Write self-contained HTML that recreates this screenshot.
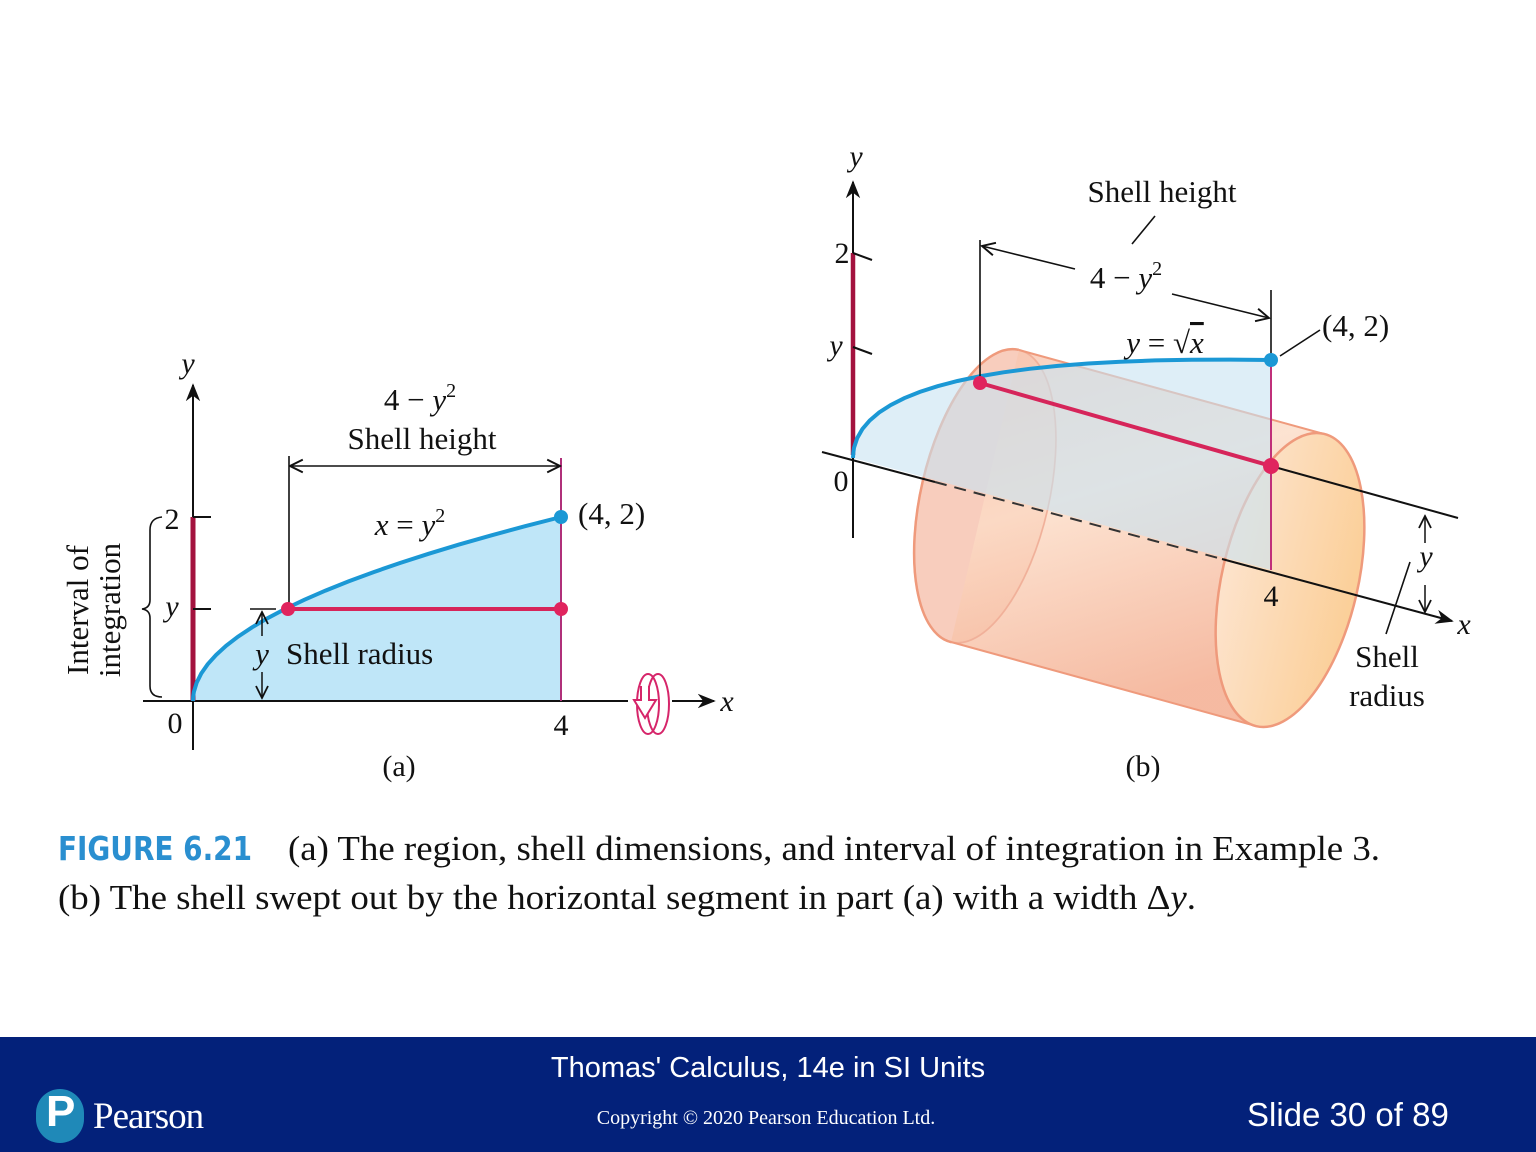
<!DOCTYPE html>
<html><head><meta charset="utf-8">
<style>
html,body{margin:0;padding:0;background:#fff}
#page{position:relative;width:1536px;height:1152px;overflow:hidden;background:#fff}
svg text{font-family:"Liberation Serif",serif;fill:#111}
.it{font-style:italic}
#footer{position:absolute;left:0;top:1037px;width:1536px;height:115px;background:#03217a}
.ft{position:absolute;color:#fff;font-family:"Liberation Sans",sans-serif;white-space:nowrap}
</style></head>
<body>
<div id="page">
<svg id="fig" width="1536" height="1037" viewBox="0 0 1536 1037" style="position:absolute;left:0;top:0">
<defs>
<marker id="ah" viewBox="0 0 10 10" refX="9" refY="5" markerWidth="9" markerHeight="9" orient="auto-start-reverse"><path d="M0,1 L10,5 L0,9 L3,5 z" fill="#111"/></marker>
<marker id="ao" viewBox="0 0 10 10" refX="9" refY="5" markerWidth="10" markerHeight="10" orient="auto-start-reverse"><path d="M1,1 L9,5 L1,9" fill="none" stroke="#111" stroke-width="1.2"/></marker>
<linearGradient id="body" x1="0" y1="0" x2="0.3" y2="1">
<stop offset="0" stop-color="#f8c3ad"/><stop offset="0.45" stop-color="#fcdcc6"/><stop offset="1" stop-color="#f3a98a"/></linearGradient>
<linearGradient id="endg" x1="0" y1="0" x2="1" y2="0">
<stop offset="0" stop-color="#fde3cc"/><stop offset="1" stop-color="#fbcf98"/></linearGradient>
</defs>

<!-- Panel A -->
<g id="panelA">
<path id="regionA" fill="#bfe6f8" d=""/>
<line x1="193" y1="750" x2="193" y2="385" stroke="#111" stroke-width="2" marker-end="url(#ah)"/>
<line x1="143" y1="701" x2="628" y2="701" stroke="#111" stroke-width="2"/>
<line x1="672" y1="701" x2="714" y2="701" stroke="#111" stroke-width="2" marker-end="url(#ah)"/>
<line x1="193" y1="517" x2="193" y2="701" stroke="#a3123e" stroke-width="5"/>
<line x1="193" y1="517" x2="211" y2="517" stroke="#111" stroke-width="2"/>
<line x1="193" y1="609" x2="211" y2="609" stroke="#111" stroke-width="2"/>
<text x="172" y="529" font-size="30" text-anchor="middle">2</text>
<text x="172" y="616" font-size="30" class="it" text-anchor="middle">y</text>
<text x="175" y="733" font-size="30" text-anchor="middle">0</text>
<text x="561" y="735" font-size="30" text-anchor="middle">4</text>
<text x="188" y="373" font-size="30" class="it" text-anchor="middle">y</text>
<text x="727" y="711" font-size="30" class="it" text-anchor="middle">x</text>
<path d="M162,517 Q150,518 150,530 L150,600 Q150,608 142,609 Q150,610 150,618 L150,686 Q150,697 162,697" fill="none" stroke="#111" stroke-width="1.6"/>
<text transform="translate(88,610) rotate(-90)" font-size="31" text-anchor="middle">Interval of</text>
<text transform="translate(120,610) rotate(-90)" font-size="31" text-anchor="middle">integration</text>
<path id="curveA" fill="none" stroke="#1b98d5" stroke-width="4" d=""/>
<line id="vertA" x1="561" y1="458" x2="561" y2="701" stroke="#b0307a" stroke-width="2"/>
<line x1="289" y1="456" x2="289" y2="609" stroke="#111" stroke-width="1.6"/>
<line x1="290" y1="466" x2="560" y2="466" stroke="#111" stroke-width="1.6" marker-start="url(#ao)" marker-end="url(#ao)"/>
<line id="segA" x1="288" y1="609" x2="561" y2="609" stroke="#d6255a" stroke-width="4"/>
<line x1="250" y1="609" x2="276" y2="609" stroke="#111" stroke-width="1.6"/>
<line x1="262" y1="636" x2="262" y2="612" stroke="#111" stroke-width="1.5" marker-end="url(#ao)"/>
<line x1="262" y1="672" x2="262" y2="698" stroke="#111" stroke-width="1.5" marker-end="url(#ao)"/>
<circle cx="288" cy="609" r="7" fill="#e0245e"/>
<circle cx="561" cy="609" r="7" fill="#e0245e"/>
<circle cx="561" cy="517" r="7" fill="#1b98d5"/>
<text x="420" y="410" font-size="31" text-anchor="middle">4 − <tspan class="it">y</tspan><tspan font-size="20" dy="-13">2</tspan></text>
<text x="422" y="449" font-size="31" text-anchor="middle">Shell height</text>
<text x="410" y="535" font-size="31" text-anchor="middle"><tspan class="it">x</tspan> = <tspan class="it">y</tspan><tspan font-size="20" dy="-13">2</tspan></text>
<text x="578" y="524" font-size="31">(4, 2)</text>
<text x="262" y="664" font-size="31" class="it" text-anchor="middle">y</text>
<text x="286" y="664" font-size="31">Shell radius</text>
<text x="399" y="776" font-size="30" text-anchor="middle">(a)</text>
<g fill="none" stroke="#d6256a" stroke-width="2">
<ellipse cx="658" cy="704" rx="11" ry="30"/><ellipse cx="648" cy="704" rx="11" ry="30"/>
<path d="M641,686 L641,700 L634,700 L645,718 L656,700 L649,700 L649,686" fill="#fff"/>
</g>
</g>

<!-- Panel B -->
<g id="panelB">
<g transform="translate(985,496) rotate(13)"><ellipse rx="64" ry="150" fill="#f8cdbd" stroke="#efa286" stroke-width="2"/></g>
<path d="M1019,350 L1324,434 L1256,726 L951,642 Z" fill="url(#body)" fill-opacity="0.8"/>
<g transform="translate(985,496) rotate(13)"><path d="M0,-150 A64,150 0 0 0 0,150" fill="none" stroke="#ef9a7c" stroke-width="2.5"/><path d="M0,-150 A64,150 0 0 1 0,150" fill="none" stroke="#f0b09a" stroke-width="1.5"/></g>
<line x1="1019" y1="350" x2="1324" y2="434" stroke="#ef9a7c" stroke-width="2"/>
<line x1="951" y1="642" x2="1256" y2="726" stroke="#ef9a7c" stroke-width="2"/>
<g transform="translate(1290,580) rotate(13)"><ellipse rx="68" ry="150" fill="url(#endg)" stroke="#ef9a7c" stroke-width="2.5"/></g>
<path id="regionB2" fill="#c8e3f1" fill-opacity="0.6" d=""/>
<line x1="853" y1="538" x2="853" y2="182" stroke="#111" stroke-width="2" marker-end="url(#ah)"/>
<line x1="822" y1="452" x2="935" y2="482" stroke="#111" stroke-width="2"/>
<line x1="935" y1="482" x2="1222" y2="559" stroke="#333" stroke-width="2" stroke-dasharray="12,8"/>
<line x1="1222" y1="559" x2="1452" y2="621" stroke="#111" stroke-width="2" marker-end="url(#ah)"/>
<line x1="1278" y1="468" x2="1458" y2="518" stroke="#111" stroke-width="2"/>
<line x1="853" y1="253" x2="853" y2="455" stroke="#a3123e" stroke-width="4.5"/>
<line x1="853" y1="253" x2="872" y2="260" stroke="#111" stroke-width="2"/>
<line x1="853" y1="347" x2="872" y2="354" stroke="#111" stroke-width="2"/>
<text x="842" y="263" font-size="30" text-anchor="middle">2</text>
<text x="836" y="355" font-size="30" class="it" text-anchor="middle">y</text>
<text x="841" y="491" font-size="30" text-anchor="middle">0</text>
<text x="856" y="166" font-size="30" class="it" text-anchor="middle">y</text>
<text x="1464" y="634" font-size="30" class="it" text-anchor="middle">x</text>
<text x="1271" y="606" font-size="30" text-anchor="middle">4</text>
<path id="curveB" fill="none" stroke="#1b98d5" stroke-width="4" d=""/>
<line x1="980" y1="240" x2="980" y2="383" stroke="#111" stroke-width="1.6"/>
<line x1="1271" y1="290" x2="1271" y2="360" stroke="#111" stroke-width="1.6"/>
<line x1="1271" y1="360" x2="1271" y2="570" stroke="#c0307a" stroke-width="2"/>
<line x1="982" y1="246" x2="1075" y2="269" stroke="#111" stroke-width="1.6" marker-start="url(#ao)"/>
<line x1="1172" y1="294" x2="1269" y2="318" stroke="#111" stroke-width="1.6" marker-end="url(#ao)"/>
<line id="segB" x1="980" y1="383" x2="1271" y2="466" stroke="#d6255a" stroke-width="4"/>
<circle cx="980" cy="383" r="7" fill="#e0245e"/>
<circle cx="1271" cy="466" r="8" fill="#e0245e"/>
<circle cx="1271" cy="360" r="7" fill="#1b98d5"/>
<line x1="1280" y1="356" x2="1320" y2="330" stroke="#111" stroke-width="1.6"/>
<text x="1322" y="336" font-size="31">(4, 2)</text>
<text x="1162" y="202" font-size="31" text-anchor="middle">Shell height</text>
<line x1="1155" y1="216" x2="1132" y2="244" stroke="#111" stroke-width="1.6"/>
<text x="1126" y="288" font-size="31" text-anchor="middle">4 − <tspan class="it">y</tspan><tspan font-size="20" dy="-13">2</tspan></text>
<text x="1165" y="353" font-size="31" text-anchor="middle"><tspan class="it">y</tspan> = √<tspan class="it" text-decoration="overline">x</tspan></text>
<line x1="1425" y1="543" x2="1425" y2="516" stroke="#111" stroke-width="1.5" marker-end="url(#ao)"/>
<line x1="1425" y1="585" x2="1425" y2="612" stroke="#111" stroke-width="1.5" marker-end="url(#ao)"/>
<text x="1426" y="566" font-size="30" class="it" text-anchor="middle">y</text>
<line x1="1410" y1="562" x2="1386" y2="634" stroke="#111" stroke-width="1.6"/>
<text x="1387" y="667" font-size="31" text-anchor="middle">Shell</text>
<text x="1387" y="706" font-size="31" text-anchor="middle">radius</text>
<text x="1143" y="776" font-size="30" text-anchor="middle">(b)</text>
</g>

<text x="58" y="860" font-size="33" style="font-family:'DejaVu Sans Condensed','DejaVu Sans',sans-serif;font-weight:bold;fill:#2a8fd0" textLength="194" lengthAdjust="spacingAndGlyphs">FIGURE 6.21</text>
<text x="288" y="860" font-size="35" textLength="1092" lengthAdjust="spacingAndGlyphs">(a) The region, shell dimensions, and interval of integration in Example 3.</text>
<text x="58" y="909" font-size="35" textLength="1138" lengthAdjust="spacingAndGlyphs">(b) The shell swept out by the horizontal segment in part (a) with a width Δ<tspan class="it">y</tspan>.</text>
</svg>

<div id="footer">
<div class="ft" style="left:0;width:1536px;text-align:center;top:15px;font-size:29px">Thomas' Calculus, 14e in SI Units</div>
<div style="position:absolute;left:36px;top:52px;width:48px;height:54px;border-radius:24px;background:#1f89b8"><span style="position:absolute;left:10px;top:-2px;color:#fff;font:bold 44px 'Liberation Sans',sans-serif">P</span></div>
<div class="ft" style="left:93px;top:58px;font-size:37px;font-family:'Liberation Serif',serif;letter-spacing:-1px">Pearson</div>
<div class="ft" style="left:0;width:1532px;text-align:center;top:70px;font-size:20px;font-family:'Liberation Serif',serif">Copyright © 2020 Pearson Education Ltd.</div>
<div class="ft" style="left:1247px;top:59px;font-size:33px">Slide 30 of 89</div>
</div>
</div>
<script>
const xMaxA = [4];
const yMaxA = [2];
const shellY = [1];
const curveSamples = [0,0.05,0.1,0.2,0.3,0.4,0.5,0.6,0.7,0.8,0.9,1,1.1,1.2,1.3,1.4,1.5,1.6,1.7,1.8,1.9,2];
const ax = v => 193 + v*92, ay = v => 701 - v*92;
let dA = '';
curveSamples.forEach((y,i)=>{ dA += (i?'L':'M')+ax(y*y).toFixed(1)+','+ay(y).toFixed(1); });
document.getElementById('curveA').setAttribute('d', dA);
document.getElementById('regionA').setAttribute('d', dA + 'L'+ax(xMaxA[0])+','+ay(0)+'Z');
const bx = (x,y) => 853 + x*104.5, by = (x,y) => 458 + x*28 - y*105;
let dB='';
curveSamples.forEach((y,i)=>{ const x=y*y; dB += (i?'L':'M')+bx(x,y).toFixed(1)+','+by(x,y).toFixed(1); });
document.getElementById('curveB').setAttribute('d', dB);
document.getElementById('regionB2').setAttribute('d', dB + 'L'+bx(4,0)+','+by(4,0)+'Z');
</script>
</body></html>
